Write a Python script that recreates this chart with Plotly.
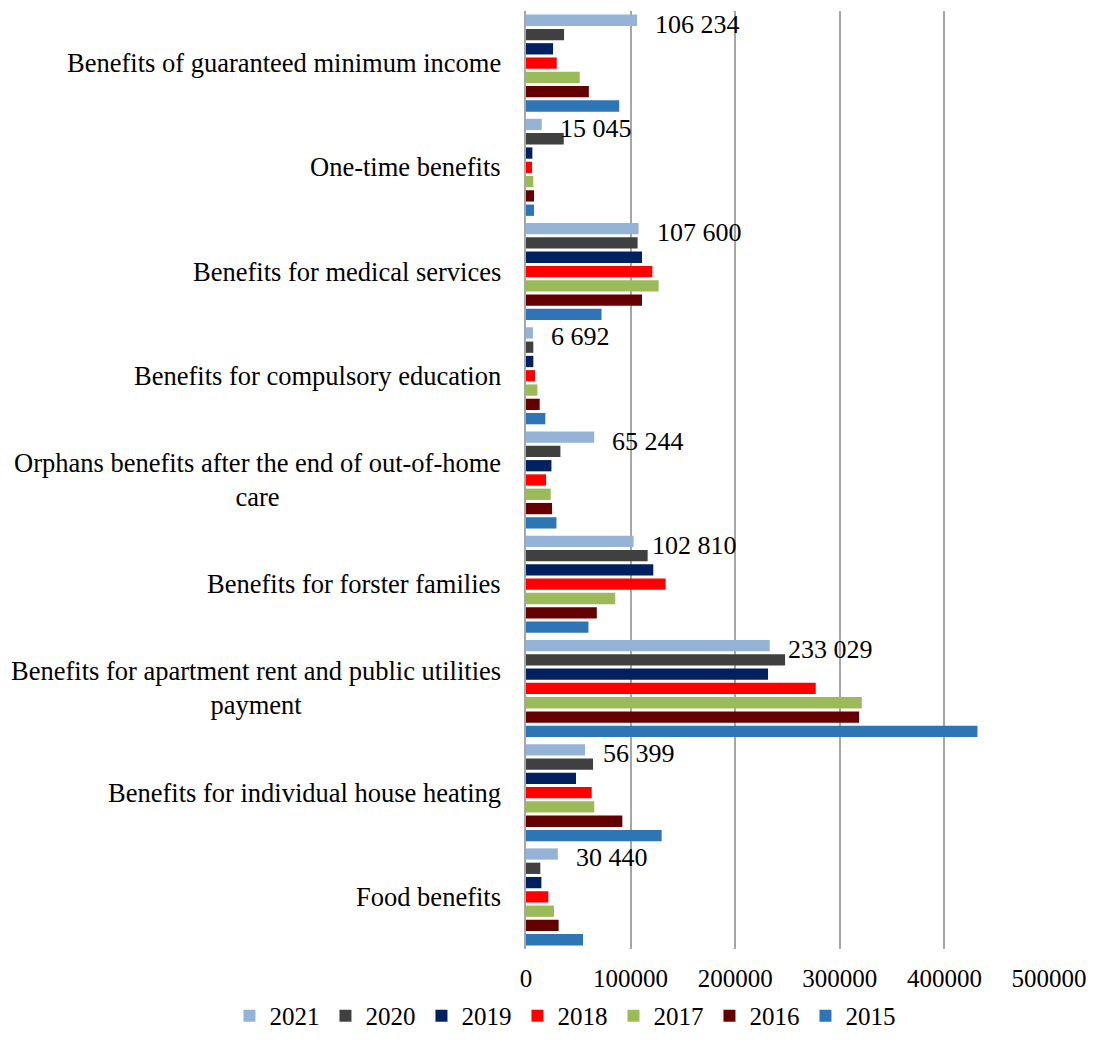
import plotly.graph_objects as go

categories = [
    "Food benefits",
    "Benefits for individual house heating",
    "Benefits for apartment rent and public utilities payment",
    "Benefits for forster families",
    "Orphans benefits after the end of out-of-home care",
    "Benefits for compulsory education",
    "Benefits for medical services",
    "One-time benefits",
    "Benefits of guaranteed minimum income",
]
category_labels = [
    "Food benefits",
    "Benefits for individual house heating",
    "Benefits for apartment rent and public utilities<br>payment",
    "Benefits for forster families",
    "Orphans benefits after the end of out-of-home<br>care",
    "Benefits for compulsory education",
    "Benefits for medical services",
    "One-time benefits",
    "Benefits of guaranteed minimum income",
]

v2021 = [30440, 56399, 233029, 102810, 65244, 6692, 107600, 15045, 106234]
v2020 = [13700, 64100, 247700, 116300, 32900, 7000, 106700, 36100, 36400]
v2019 = [14700, 47800, 231400, 121700, 24300, 7000, 110900, 6100, 25900]
v2018 = [21400, 62800, 277000, 133500, 19200, 8600, 120800, 5800, 29400]
v2017 = [26800, 65300, 321000, 85300, 23600, 10900, 126800, 7000, 51400]
v2016 = [31200, 92100, 318500, 67700, 24900, 13100, 110900, 7700, 60100]
v2015 = [54500, 129700, 431600, 59700, 29100, 18500, 72200, 7700, 89100]

years = ["2015", "2016", "2017", "2018", "2019", "2020", "2021"]
series = [v2015, v2016, v2017, v2018, v2019, v2020, v2021]
colors = ["#2E75B6", "#640000", "#9BBB59", "#FF0000", "#002060", "#404040", "#95B3D7"]

x_ticks = [0, 100000, 200000, 300000, 400000, 500000]

SERIF = "Liberation Serif, Times New Roman, serif"

fig = go.Figure()
for yr, vals, col in zip(years, series, colors):
    fig.add_trace(go.Bar(
        y=categories, x=vals, name=yr, orientation="h",
        marker=dict(color=col, line=dict(width=0)),
        hoverinfo="x+name",
    ))

# data labels for 2021 (top bar of each group)
for cat, v in zip(categories, v2021):
    fig.add_annotation(
        x=v, xref="x", y=cat, yref="y", text=f"{v:,}".replace(",", " "),
        xanchor="left", yanchor="middle", xshift=16, yshift=39,
        showarrow=False, font=dict(family=SERIF, size=26, color="black"),
    )

for cat, lab in zip(categories, category_labels):
    fig.add_annotation(
        x=0, xref="paper", y=cat, yref="y", text=lab,
        xanchor="right", yanchor="middle", align="center", xshift=-23,
        showarrow=False, font=dict(family=SERIF, size=26.5, color="black"),
    )

fig.update_layout(
    width=1079, height=1026,
    margin=dict(l=518, r=38, t=3, b=85, autoexpand=False),
    barmode="group", bargap=0.04, bargroupgap=0.21,
    plot_bgcolor="white", paper_bgcolor="white",
    font=dict(family=SERIF, size=25, color="black"),
    showlegend=True,
    legend=dict(
        orientation="h", traceorder="reversed",
        x=-0.567, xanchor="left", y=-0.0714, yanchor="middle",
        font=dict(family=SERIF, size=25, color="black"),
        itemwidth=30, tracegroupgap=0,
        entrywidth=51, entrywidthmode="pixels",
    ),
    xaxis=dict(
        range=[0, 500000], tickvals=x_ticks, tickformat="d",
        showgrid=True, gridcolor="#A6A6A6", gridwidth=2,
        zeroline=False, showline=False, ticks="",
        tickfont=dict(family=SERIF, size=25, color="black"),
        ticklabelstandoff=12,
    ),
    yaxis=dict(
        categoryorder="array", categoryarray=categories,
        range=[-0.5, len(categories) - 0.5], autorange=False,
        showticklabels=False, ticks="", showgrid=False,
        showline=True, linecolor="#A6A6A6", linewidth=2,
        zeroline=False,
    ),
)

fig.write_html("out.html")
